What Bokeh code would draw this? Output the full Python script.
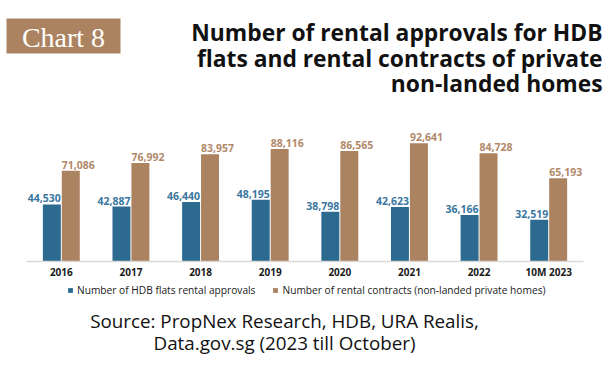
from bokeh.plotting import figure
from bokeh.models import (Range1d, Label, Legend, LegendItem, BoxAnnotation,
                          ColumnDataSource, FixedTicker)
from bokeh.transform import dodge
from bokeh.core.properties import value
from bokeh.embed import file_html
from bokeh.resources import INLINE

# ---- data ----
years = ["2016", "2017", "2018", "2019", "2020", "2021", "2022", "10M 2023"]
hdb_approvals = [44530, 42887, 46440, 48195, 38798, 42623, 36166, 32519]
private_contracts = [71086, 76992, 83957, 88116, 86565, 92641, 84728, 65193]
series_names = ["Number of HDB flats rental approvals",
                "Number of rental contracts (non-landed private homes)"]
title_lines = ["Number of rental approvals for HDB",
               "flats and rental contracts of private",
               "non-landed homes"]
source_lines = ["Source: PropNex Research, HDB, URA Realis,",
                "Data.gov.sg (2023 till October)"]
badge_text = "Chart 8"

BLUE = "#2D6A8F"
BLUE_LBL = "#3B76A0"
BROWN = "#AB8360"
BROWN_LBL = "#B1896A"
FONT = "Open Sans"
W, H = 614, 374

idx = list(range(len(years)))
src = ColumnDataSource(dict(
    x=idx, hdb=hdb_approvals, prv=private_contracts,
    hdb_lbl=[f"{v:,}" for v in hdb_approvals],
    prv_lbl=[f"{v:,}" for v in private_contracts],
))

# frame covers the whole canvas; scales place the plot area like the original
px_per_cat = 69.625
px_per_unit = 1.2741 / 1000
x0 = -0.5 - 26 / px_per_cat
x1 = len(years) - 0.5 + 31 / px_per_cat
y0 = -113.3 / px_per_unit
y1 = 260.7 / px_per_unit

p = figure(width=W, height=H, output_backend="svg", toolbar_location=None,
           x_range=Range1d(x0, x1), y_range=Range1d(y0, y1),
           y_axis_location=None, min_border=0)
p.outline_line_color = None
p.xgrid.visible = False
p.ygrid.visible = False

off, bw = 0.136, 0.258
r1 = p.vbar(x=dodge("x", -off), top="hdb", width=bw, source=src,
            fill_color=BLUE, line_color=None)
r2 = p.vbar(x=dodge("x", off), top="prv", width=bw, source=src,
            fill_color=BROWN, line_color=None)

p.text(x=dodge("x", -off + bw / 2), y="hdb", text="hdb_lbl",
       source=src, text_align="right", text_baseline="alphabetic", y_offset=-6,
       text_font=value(FONT), text_font_style="bold", text_font_size="10.5px",
       text_color=BLUE_LBL)
p.text(x=dodge("x", off - bw / 2), y="prv", text="prv_lbl",
       source=src, text_align="left", text_baseline="alphabetic", y_offset=-6,
       text_font=value(FONT), text_font_style="bold", text_font_size="10.5px",
       text_color=BROWN_LBL)

ax = p.xaxis[0]
ax.fixed_location = 0
ax.bounds = (-0.5, len(years) - 0.5)
ax.ticker = FixedTicker(ticks=idx)
ax.major_label_overrides = {i: y for i, y in zip(idx, years)}
ax.axis_line_color = "#d9d9d9"
ax.axis_line_width = 1.5
ax.major_tick_line_color = None
ax.minor_tick_line_color = None
ax.major_label_text_font = FONT
ax.major_label_text_font_style = "bold"
ax.major_label_text_font_size = "10px"
ax.major_label_text_color = "#1a1a1a"
ax.major_label_standoff = -2

legend = Legend(items=[LegendItem(label=series_names[0], renderers=[r1]),
                       LegendItem(label=series_names[1], renderers=[r2])],
                location=(67, 77), orientation="horizontal",
                glyph_width=6, glyph_height=6, label_standoff=4, spacing=17,
                padding=0, margin=0, border_line_color=None,
                background_fill_alpha=0, label_height=10,
                label_text_font=FONT, label_text_font_size="10.2px",
                label_text_color="#1a1a1a")
p.add_layout(legend)

# title
for txt, yy in zip(title_lines, [342, 316, 291]):
    p.add_layout(Label(x=602, y=yy, x_units="screen", y_units="screen", text=txt,
                       text_align="right", text_baseline="alphabetic",
                       text_font=FONT, text_font_style="bold",
                       text_font_size="22.8px", text_color="#111111"))

# badge
p.add_layout(BoxAnnotation(left=6, right=120, bottom=321, top=356,
                           left_units="screen", right_units="screen",
                           bottom_units="screen", top_units="screen",
                           fill_color=BROWN, fill_alpha=1, line_color=None))
p.add_layout(Label(x=63, y=337, x_units="screen", y_units="screen", text=badge_text,
                   text_align="center", text_baseline="alphabetic",
                   text_font="Liberation Serif", text_font_size="28px",
                   text_color="white"))

# source
for txt, yy in zip(source_lines, [54, 32]):
    p.add_layout(Label(x=284, y=yy, x_units="screen", y_units="screen", text=txt,
                       text_align="center", text_baseline="alphabetic",
                       text_font=FONT, text_font_size="18.8px",
                       text_color="#111111"))

open("out.html", "w").write(file_html(p, INLINE))
